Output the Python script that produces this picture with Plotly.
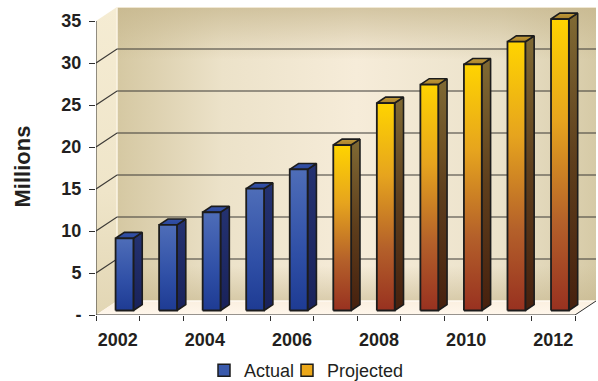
import plotly.graph_objects as go

# ---- data ----
years = [2002, 2003, 2004, 2005, 2006, 2007, 2008, 2009, 2010, 2011, 2012]
actual = [8.6, 10.2, 11.7, 14.5, 16.8]
projected = [19.7, 24.7, 26.9, 29.3, 32.0, 34.7]
y_ticks = [0, 5, 10, 15, 20, 25, 30, 35]
y_tick_text = ["-", "5", "10", "15", "20", "25", "30", "35"]
x_label_years = [2002, 2004, 2006, 2008, 2010, 2012]

# ---- 3D box geometry (in axis units) ----
PX_PER_CAT = 479 / 11.0
PX_PER_VAL = 8.4
DX = 21 / PX_PER_CAT          # depth offset along x
DY = 14 / PX_PER_VAL          # depth offset along y
N = len(years)
X0, X1 = -0.5, N - 0.5
YMAX = 35
BAR_W = 0.41                  # front face width
F0 = 0.32                     # depth position of bar front
BD = 0.42                     # bar depth fraction

FONT = "Liberation Sans, Arial, sans-serif"
INK = "#231f20"
EDGE = "#1c1c1c"

fig = go.Figure()


def poly(xs, ys, scale, orient="vertical", line_color=None, width=0):
    fig.add_trace(go.Scatter(
        x=xs + [xs[0]], y=ys + [ys[0]], mode="lines", fill="toself",
        fillgradient=dict(type=orient, colorscale=scale),
        line=dict(color=line_color or "rgba(0,0,0,0)", width=width),
        showlegend=False, hoverinfo="skip"))


# back wall (horizontal shading, then vertical shading overlay)
bw_x = [X0 + DX, X1 + DX, X1 + DX, X0 + DX]
bw_y = [DY, DY, YMAX + DY, YMAX + DY]
poly(bw_x, bw_y, [[0, "#d5c8a2"], [0.22, "#ece2c9"], [0.5, "#f6ecd9"],
                  [0.8, "#ebe2ca"], [1, "#d6caa6"]], orient="horizontal")
poly(bw_x, bw_y, [[0, "rgba(196,180,138,0.55)"], [0.12, "rgba(196,180,138,0)"],
                  [0.82, "rgba(196,180,138,0)"], [1, "rgba(196,180,138,0.7)"]])

# left side wall
poly([X0, X0 + DX, X0 + DX, X0], [0, DY, YMAX + DY, YMAX],
     [[0, "#e2d6b4"], [0.4, "#efe5c9"], [1, "#f5ecd3"]])

# floor
poly([X0, X1, X1 + DX, X0 + DX], [0, 0, DY, DY],
     [[0, "#fff7ec"], [1, "#fbf0e0"]])

# wall edges (light)
fig.add_trace(go.Scatter(x=[X0 + DX, X0 + DX, X1 + DX], y=[DY, YMAX + DY, YMAX + DY],
                         mode="lines", line=dict(color="#fbf5e6", width=1.5),
                         showlegend=False, hoverinfo="skip"))
fig.add_trace(go.Scatter(x=[X0 + DX, X1 + DX], y=[DY, DY], mode="lines",
                         line=dict(color="#fffaf2", width=1.5),
                         showlegend=False, hoverinfo="skip"))

# gridlines on side wall and back wall
gx, gy = [], []
for v in y_ticks[1:-1]:
    gx += [X0, X0 + DX, X1 + DX, None]
    gy += [v, v + DY, v + DY, None]
fig.add_trace(go.Scatter(x=gx, y=gy, mode="lines",
                         line=dict(color="#3c3a36", width=1.2),
                         showlegend=False, hoverinfo="skip"))

# ---- bars ----
styles = {
    "actual": dict(
        front=[[0, "#1e3b93"], [0.4, "#2f4fa6"], [1, "#4e6db8"]],
        side=[[0, "#19225a"], [1, "#243271"]],
        top=[[0, "#2a479c"], [1, "#3552a8"]]),
    "projected": dict(
        front=[[0, "#983120"], [0.3, "#b4602a"], [0.65, "#e6a41e"], [1, "#ffd400"]],
        side=[[0, "#46200e"], [0.5, "#5e3e1c"], [1, "#806a34"]],
        top=[[0, "#a8802c"], [1, "#c09a3a"]]),
}

values = actual + projected
kinds = ["actual"] * len(actual) + ["projected"] * len(projected)
for i, (v, k) in enumerate(zip(values, kinds)):
    st = styles[k]
    xa = i - BAR_W / 2 + F0 * DX
    xb = i + BAR_W / 2 + F0 * DX
    yb = F0 * DY
    yt = v + F0 * DY
    ddx, ddy = BD * DX, BD * DY
    # side face
    poly([xb, xb + ddx, xb + ddx, xb], [yb, yb + ddy, yt + ddy, yt],
         st["side"], line_color=EDGE, width=1.6)
    # top face
    poly([xa, xb, xb + ddx, xa + ddx], [yt, yt, yt + ddy, yt + ddy],
         st["top"], line_color=EDGE, width=1.6)
    # front face
    poly([xa, xb, xb, xa], [yb, yb, yt, yt],
         st["front"], line_color=EDGE, width=1.8)

# legend entries (one legend box each, so they can sit close together)
fig.add_trace(go.Bar(x=[None], y=[None], name="Actual", legend="legend",
                     marker=dict(color="#3a5aac", line=dict(color=EDGE, width=1.5))))
fig.add_trace(go.Bar(x=[None], y=[None], name="Projected", legend="legend2",
                     marker=dict(color="#eca81a", line=dict(color=EDGE, width=1.5))))

# axis lines of the box front
fig.add_shape(type="line", x0=X0, x1=X0, y0=0, y1=YMAX,
              line=dict(color="#2e2e2e", width=1))
fig.add_shape(type="line", x0=X0, x1=X1, y0=0, y1=0,
              line=dict(color="#2e2e2e", width=1))
fig.add_shape(type="line", x0=X1, x1=X1 + DX, y0=0, y1=DY,
              line=dict(color="#2e2e2e", width=1))

fig.add_annotation(text="Millions", xref="paper", yref="paper",
                   x=(22 - 96) / 500, y=(315 - 166.5) / 308, textangle=-90,
                   xanchor="center", yanchor="middle",
                   showarrow=False, font=dict(family=FONT, size=22, color=INK, weight="bold"))

legend_common = dict(orientation="h", xanchor="left",
                     yref="container", y=1 - 370.5 / 381, yanchor="middle",
                     font=dict(family=FONT, size=18, color=INK),
                     bgcolor="rgba(0,0,0,0)", itemclick=False, itemdoubleclick=False)

fig.update_layout(
    width=598, height=381,
    margin=dict(l=96, r=2, t=7, b=66),
    paper_bgcolor="white", plot_bgcolor="white",
    hovermode=False,
    barmode="overlay",
    xaxis=dict(range=[X0, X1 + DX], showgrid=False, zeroline=False, showline=False,
               tickvals=[years.index(y) for y in x_label_years],
               ticktext=[str(y) for y in x_label_years],
               ticks="outside", ticklen=0, ticklabelstandoff=8,
               tickfont=dict(family=FONT, size=18, color=INK, weight="bold"),
               minor=dict(tickvals=[i - 0.5 for i in range(N + 1)], ticks="outside",
                          ticklen=5, tickcolor="#2e2e2e", tickwidth=1),
               fixedrange=True),
    yaxis=dict(range=[0, YMAX + DY], showgrid=False, zeroline=False, showline=False,
               tickvals=y_ticks, ticktext=y_tick_text,
               ticks="outside", ticklen=6, tickcolor="#2e2e2e", tickwidth=1,
               ticklabelstandoff=4,
               tickfont=dict(family=FONT, size=18, color=INK, weight="bold"),
               fixedrange=True),
    legend=dict(legend_common, xref="container", x=204 / 598),
    legend2=dict(legend_common, xref="container", x=287 / 598),
    showlegend=True,
)

fig.write_html("out.html")
